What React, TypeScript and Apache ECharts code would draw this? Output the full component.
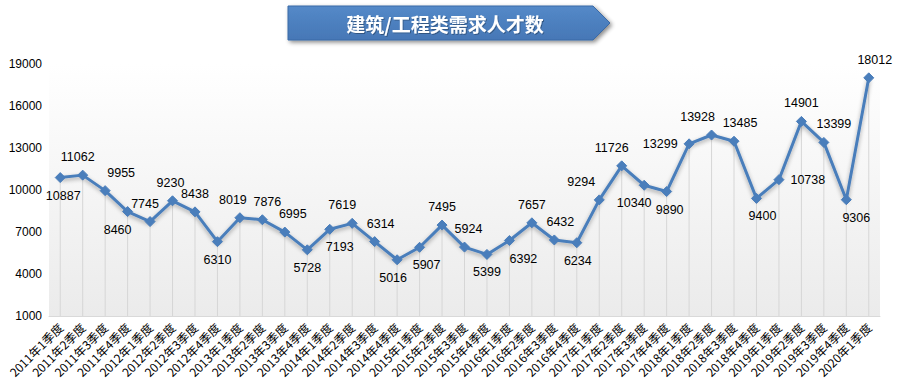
import React, { useEffect, useRef } from "react";
import * as echarts from "echarts";

const categories = [
  "2011年1季度", "2011年2季度", "2011年3季度", "2011年4季度",
  "2012年1季度", "2012年2季度", "2012年3季度", "2012年4季度",
  "2013年1季度", "2013年2季度", "2013年3季度", "2013年4季度",
  "2014年1季度", "2014年2季度", "2014年3季度", "2014年4季度",
  "2015年1季度", "2015年2季度", "2015年3季度", "2015年4季度",
  "2016年1季度", "2016年2季度", "2016年3季度", "2016年4季度",
  "2017年1季度", "2017年2季度", "2017年3季度", "2017年4季度",
  "2018年1季度", "2018年2季度", "2018年3季度", "2018年4季度",
  "2019年1季度", "2019年2季度", "2019年3季度", "2019年4季度",
  "2020年1季度",
];

const demand = [
  10887, 11062, 9955, 8460,
  7745, 9230, 8438, 6310,
  8019, 7876, 6995, 5728,
  7193, 7619, 6314, 5016,
  5907, 7495, 5924, 5399,
  6392, 7657, 6432, 6234,
  9294, 11726, 10340, 9890,
  13299, 13928, 13485, 9400,
  10738, 14901, 13399, 9306,
  18012,
];

const yTickLabels = [1000, 4000, 7000, 10000, 13000, 16000, 19000];

// label placement per point (style only)
const labelPlacement = [
  "bottom", "top", "top", "bottom",
  "top", "top", "top", "bottom",
  "top", "top", "top", "bottom",
  "bottom", "top", "top", "bottom",
  "bottom", "top", "top", "bottom",
  "bottom", "top", "top", "bottom",
  "top", "top", "bottom", "bottom",
  "left", "top", "top", "bottom",
  "right", "top", "top", "bottom",
  "top",
];
const labelShiftX = [
  3, -5, 16, -10,
  -5, -2, 0, 0,
  -7, 5, 8, 0,
  10, -10, 6, -4,
  7, 0, 4, 0,
  14, 0, 6, 1,
  -18, -10, -10, 3,
  0, -14, 6, 6,
  0, 0, 10, 10,
  6,
];

const TITLE = "建筑/工程类需求人才数";

export default function App() {
  const ref = useRef<HTMLDivElement>(null);

  useEffect(() => {
    if (!ref.current) return;
    const chart = echarts.init(ref.current, undefined, { renderer: "svg" });
    const lineColor = "#4a7ebb";
    const option: any = {
      animation: false,
      backgroundColor: "#ffffff",
      grid: {
        left: 49,
        right: 20,
        top: 64,
        bottom: 72,
        show: true,
        borderWidth: 0,
        backgroundColor: new echarts.graphic.LinearGradient(0, 0, 0, 1, [
          { offset: 0, color: "#ffffff" },
          { offset: 1, color: "#ebebeb" },
        ]),
      },
      graphic: [
        {
          type: "polygon",
          shape: {
            points: [
              [288, 6],
              [593, 6],
              [610, 23],
              [593, 40],
              [288, 40],
            ],
          },
          style: {
            fill: new echarts.graphic.LinearGradient(0, 0, 0, 1, [
              { offset: 0, color: "#5489c8" },
              { offset: 1, color: "#4677b6" },
            ]),
            stroke: "#3b6aa6",
            lineWidth: 1,
            shadowColor: "rgba(0,0,0,0.45)",
            shadowBlur: 4,
            shadowOffsetX: 2,
            shadowOffsetY: 2,
          },
        },
        {
          type: "text",
          x: 445,
          y: 23,
          style: {
            text: TITLE,
            fill: "#ffffff",
            fontSize: 19,
            fontWeight: "bold",
            fontFamily: "Noto Sans CJK SC",
            align: "center",
            verticalAlign: "middle",
            textShadowColor: "rgba(0,0,0,0.3)",
            textShadowBlur: 1,
            textShadowOffsetX: 1,
            textShadowOffsetY: 1,
          },
        },
      ],
      xAxis: {
        type: "category",
        data: categories,
        boundaryGap: true,
        axisLine: { show: true, lineStyle: { color: "#d9d9d9", width: 1 } },
        axisTick: { show: false },
        axisLabel: {
          interval: 0,
          rotate: 45,
          margin: 9,
          fontSize: 12,
          color: "#000000",
          fontFamily: "Noto Sans CJK SC",
        },
        splitLine: { show: false },
      },
      yAxis: {
        type: "value",
        min: 1000,
        max: 19000,
        interval: 1000,
        startValue: 1000,
        axisLine: { show: false },
        axisTick: { show: false },
        splitLine: { show: false },
        axisLabel: {
          margin: 7,
          fontSize: 12,
          color: "#000000",
          fontFamily: "Liberation Sans",
          formatter: (v: number) => (yTickLabels.indexOf(v) >= 0 ? String(v) : ""),
        },
      },
      series: [
        {
          type: "bar",
          data: demand,
          barWidth: 1,
          silent: true,
          clip: true,
          itemStyle: { color: "#d6d6d6" },
          z: 1,
        },
        {
          type: "line",
          data: demand.map((v, i) => ({
            value: v,
            label: {
              position: labelPlacement[i],
              offset: [labelShiftX[i], 0],
            },
          })),
          symbol: "diamond",
          symbolSize: 10,
          showAllSymbol: true,
          z: 3,
          lineStyle: {
            color: lineColor,
            width: 3,
            shadowColor: "rgba(0,0,0,0.35)",
            shadowBlur: 4,
            shadowOffsetY: 2,
          },
          itemStyle: { color: lineColor, borderColor: lineColor },
          label: {
            show: true,
            distance: 6,
            fontSize: 12.5,
            color: "#000000",
            fontFamily: "Liberation Sans",
          },
        },
      ],
    };
    chart.setOption(option);
    return () => chart.dispose();
  }, []);

  return <div ref={ref} style={{ width: 900, height: 388, position: "absolute", left: 0, top: 0 }} />;
}
